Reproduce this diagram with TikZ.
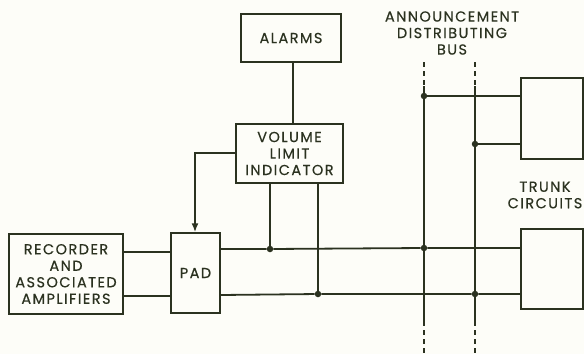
\documentclass[tikz,border=0pt]{standalone}
\usepackage{fontspec}
\setmainfont{Poppins}[LetterSpace=10,RawFeature={embolden=0.4}]
\usetikzlibrary{arrows.meta}
\definecolor{ink}{HTML}{2B3220}
\definecolor{paper}{HTML}{FDFDF8}
\newcommand{\dgfont}{\fontsize{14.5}{16.5}\selectfont}
\tikzset{
  blk/.style={draw=ink, line width=1.4pt, rectangle, inner sep=0pt, align=center, text=ink, font=\dgfont},
  wire/.style={draw=ink, line width=1.8pt},
  busdash/.style={draw=ink, line width=1.8pt, dash pattern=on 5pt off 4pt},
  lbl/.style={text=ink, align=center, inner sep=0pt, font=\dgfont},
  dot/.style={circle, fill=ink, inner sep=0pt, minimum size=6.5pt},
}
\begin{document}
\begin{tikzpicture}[x=1pt,y=-1pt]
\fill[paper] (0,0) rectangle (584,354);
\useasboundingbox (0,0) rectangle (584,354);
% blocks
\node[blk, minimum width=100pt, minimum height=48pt] (alarms) at (291,38) {ALARMS};
\node[blk, minimum width=107pt, minimum height=59pt] (vli) at (289.5,153.5) {VOLUME\\LIMIT\\INDICATOR};
\node[blk, minimum width=114pt, minimum height=80pt] (rec) at (66,274) {RECORDER\\AND\\ASSOCIATED\\AMPLIFIERS};
\node[blk, minimum width=49pt, minimum height=80pt] (pad) at (195.5,273) {PAD};
\node[blk, minimum width=62pt, minimum height=81pt] (t1) at (552,118.5) {};
\node[blk, minimum width=62pt, minimum height=80pt] (t2) at (552,269) {};
% labels
\node[lbl] (annc) at (452,33) {ANNOUNCEMENT\\DISTRIBUTING\\BUS};
\node[lbl] (trk) at (545,195) {TRUNK\\CIRCUITS};
% junction coordinates
\coordinate (b1top) at (424,62);
\coordinate (b1s) at (424,86);
\coordinate (b1e) at (424,321);
\coordinate (b1bot) at (424,354);
\coordinate (b2top) at (475,62);
\coordinate (b2s) at (475,86);
\coordinate (b2e) at (475,321);
\coordinate (b2bot) at (475,354);
\node[dot] (j1) at (424,96) {};
\node[dot] (j2) at (475,144) {};
\node[dot] (j3) at (424,248) {};
\node[dot] (j4) at (475,294) {};
\node[dot] (j5) at (270,249) {};
\node[dot] (j6) at (318,294) {};
\coordinate (vlo) at (195,153);
% connectors
\draw[wire] (alarms.south -| 293,0) -- (vli.north -| 293,0);
\draw[wire, -{Latex[length=9pt,width=7pt]}] (vli.west |- vlo) -- (vlo) -- (pad.north -| vlo);
\draw[wire] (rec.east |- 0,252) -- (pad.west |- 0,252);
\draw[wire] (rec.east |- 0,296) -- (pad.west |- 0,296);
\draw[wire] (pad.east |- 0,249) -- (j5) -- (j3) -- (t2.west |- 0,248);
\draw[wire] (pad.east |- 0,295) -- (j6) -- (j4) -- (t2.west |- 0,294);
\draw[wire] (vli.south -| j5) -- (j5);
\draw[wire] (vli.south -| j6) -- (j6);
\draw[busdash] (b1top) -- (b1s);
\draw[wire] (b1s) -- (b1e);
\draw[busdash] (b1e) -- (b1bot);
\draw[busdash] (b2top) -- (b2s);
\draw[wire] (b2s) -- (b2e);
\draw[busdash] (b2e) -- (b2bot);
\draw[wire] (j1) -- (t1.west |- j1);
\draw[wire] (j2) -- (t1.west |- j2);
\end{tikzpicture}
\end{document}
